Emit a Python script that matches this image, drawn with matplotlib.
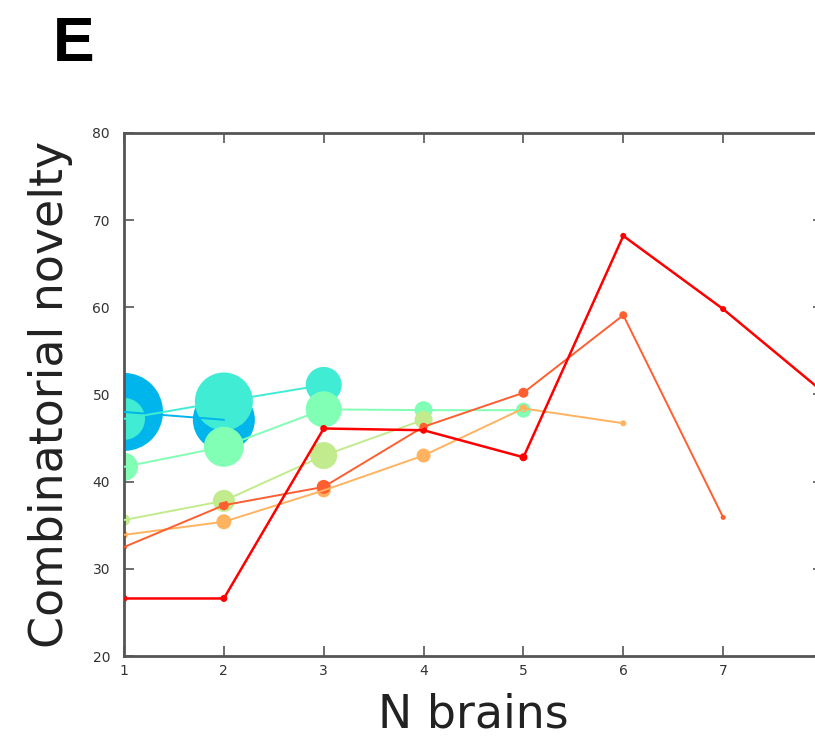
#!/usr/bin/env python3

'''
Combinatorial novelty as a function of the number of brains combined.
One line per group, coloured along the rainbow map; marker size shows
the spread of each point.
'''

import matplotlib
matplotlib.use('Agg')
import matplotlib.pyplot as plt
import numpy as np

n_brains = [1, 2, 3, 4, 5, 6, 7, 8]

# novelty per group (groups have different lengths)
nov_a = [48.0, 47.1]
nov_b = [47.2, 49.2, 51.1]
nov_c = [41.7, 44.0, 48.3, 48.2, 48.2]
nov_d = [35.6, 37.8, 43.0, 47.1]
nov_e = [33.9, 35.4, 39.0, 43.0, 48.4, 46.7]
nov_f = [32.5, 37.3, 39.4, 46.3, 50.2, 59.1, 35.9]
nov_g = [26.6, 26.6, 46.1, 45.9, 42.8, 68.2, 59.8, 50.3]

# spread per point (marker diameter)
spread_a = [78, 62]
spread_b = [42, 58, 36]
spread_c = [28, 40, 36, 18, 15]
spread_d = [12, 22, 27, 18]
spread_e = [8, 15, 14, 14, 8, 6]
spread_f = [6, 10, 14, 8, 10, 8, 5]
spread_g = [7, 7, 7, 7, 8, 6, 6, 5]

groups = [nov_a, nov_b, nov_c, nov_d, nov_e, nov_f, nov_g]
spreads = [spread_a, spread_b, spread_c, spread_d, spread_e, spread_f, spread_g]
colors = plt.cm.rainbow(np.linspace(0.25, 1.0, len(groups)))

fig = plt.figure(figsize=(8.15, 7.38), dpi=100)
ax = fig.add_axes([124 / 815, 82 / 738, 699 / 815, 523 / 738])

# markers first, lines on top
for vals, spr, c in zip(groups, spreads, colors):
    x = n_brains[:len(vals)]
    ax.scatter(x, vals, s=(0.72 * np.array(spr)) ** 2, color=c,
               edgecolors='none', zorder=2)
for i, (vals, c) in enumerate(zip(groups, colors)):
    x = n_brains[:len(vals)]
    lw = 1.8 if i == len(groups) - 1 else 1.4
    ax.plot(x, vals, color=c, lw=lw, zorder=3)

ax.set_xlim(1, 8)
ax.set_ylim(20, 80)
ax.set_xticks(n_brains)
ax.set_yticks(range(20, 81, 10))

for s in ax.spines.values():
    s.set_color('#555555')
    s.set_linewidth(2)
ax.tick_params(direction='in', length=7, width=1.2, color='#555555',
               labelsize=10, labelcolor='#333333', top=True, right=True)
ax.tick_params(axis='x', pad=6)
ax.tick_params(axis='y', pad=10)

ax.set_xlabel('N brains', fontsize=33, color='#222222', labelpad=10)
ax.set_ylabel('Combinatorial novelty', fontsize=33, color='#222222', labelpad=14)

fig.text(53 / 815, 1 - 61 / 738, 'E', fontsize=45, fontweight='bold',
         family='Liberation Sans', va='baseline', ha='left')

fig.savefig('out.png', dpi=100)
print('Generated: out.png')
